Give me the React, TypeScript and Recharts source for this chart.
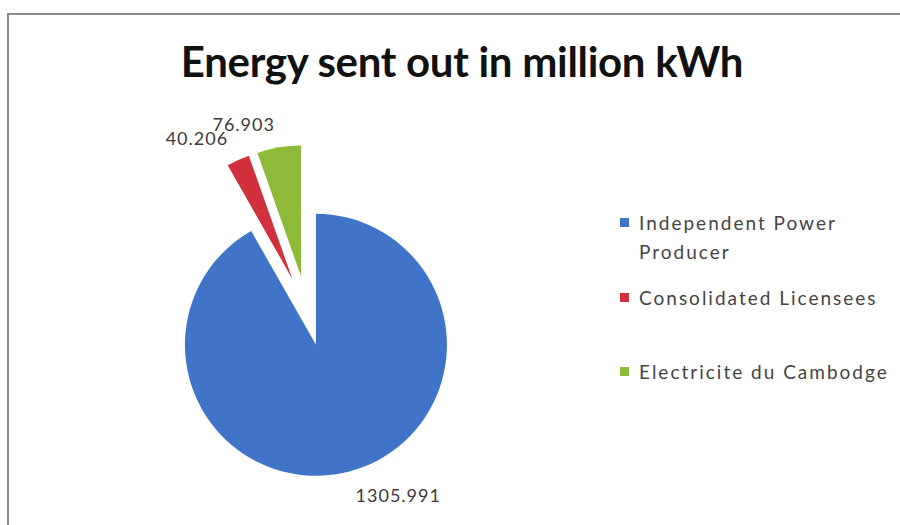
import { PieChart, Pie, Cell, Legend, Sector } from 'recharts';

const categories = ['Independent Power Producer', 'Consolidated Licensees', 'Electricite du Cambodge'];
const values = [1305.991, 40.206, 76.903];
const colors = ['#3F74C9', '#D1303C', '#8DBA38'];

const data = categories.map((name, i) => ({ name, value: values[i] }));

const RAD = Math.PI / 180;
const EXPLODE = 35;

// every slice is pulled out along its own bisector, like Excel's exploded pie
const ExplodedSector = (props: any) => {
  const { cx, cy, midAngle } = props;
  const dx = EXPLODE * Math.cos(-midAngle * RAD);
  const dy = EXPLODE * Math.sin(-midAngle * RAD);
  return <Sector {...props} cx={cx + dx} cy={cy + dy} />;
};

const renderLabel = (props: any) => {
  const { cx, cy, midAngle, outerRadius, value } = props;
  const r = outerRadius + EXPLODE + 24;
  const cos = Math.cos(-midAngle * RAD);
  const x = cx + r * cos;
  const y = cy + r * Math.sin(-midAngle * RAD);
  const anchor = cos > 0.1 ? 'start' : cos < -0.1 ? 'end' : 'middle';
  return (
    <text
      x={x}
      y={y}
      textAnchor={anchor}
      dominantBaseline="central"
      fill="#3a3a3a"
      fontFamily="Lato"
      fontSize={18}
      letterSpacing={1}
    >
      {value.toFixed(3)}
    </text>
  );
};

const renderLegend = () => (
  <div style={{ fontFamily: 'Lato', fontSize: 19, color: '#444', letterSpacing: 2 }}>
    {data.map((d, i) => (
      <div key={d.name} style={{ display: 'flex', height: 74.5, lineHeight: '29px' }}>
        <div style={{ width: 9, height: 9, background: colors[i], marginTop: 10, marginRight: 10, flexShrink: 0 }} />
        <div style={{ width: 258 }}>{d.name}</div>
      </div>
    ))}
  </div>
);

export default function App() {
  return (
    <div style={{ position: 'fixed', left: 0, top: 0, width: 900, height: 525, background: '#fff', overflow: 'hidden' }}>
      <div
        style={{
          position: 'absolute',
          left: 7,
          top: 13,
          width: 920,
          height: 540,
          border: '2px solid #8a8a8a',
        }}
      />
      <div
        style={{
          position: 'absolute',
          left: 0,
          top: 36,
          width: 924,
          textAlign: 'center',
          fontFamily: 'Lato',
          fontWeight: 'bold',
          fontSize: 42,
          color: '#111',
          letterSpacing: -0.3,
        }}
      >
        Energy sent out in million kWh
      </div>
      <PieChart
        width={900}
        height={525}
        margin={{ top: 0, right: 0, bottom: 0, left: 0 }}
        style={{ position: 'absolute', left: 0, top: 0 }}
      >
        <Pie
          data={data}
          dataKey="value"
          nameKey="name"
          cx={307}
          cy={311}
          outerRadius={131}
          startAngle={90}
          endAngle={-270}
          stroke="none"
          shape={ExplodedSector}
          activeShape={ExplodedSector}
          label={renderLabel}
          labelLine={false}
          isAnimationActive={false}
        >
          {data.map((d, i) => (
            <Cell key={d.name} fill={colors[i]} />
          ))}
        </Pie>
        <Legend
          content={renderLegend}
          layout="vertical"
          verticalAlign="middle"
          align="right"
          wrapperStyle={{ left: 620, top: 208, width: 280 }}
        />
      </PieChart>
    </div>
  );
}
